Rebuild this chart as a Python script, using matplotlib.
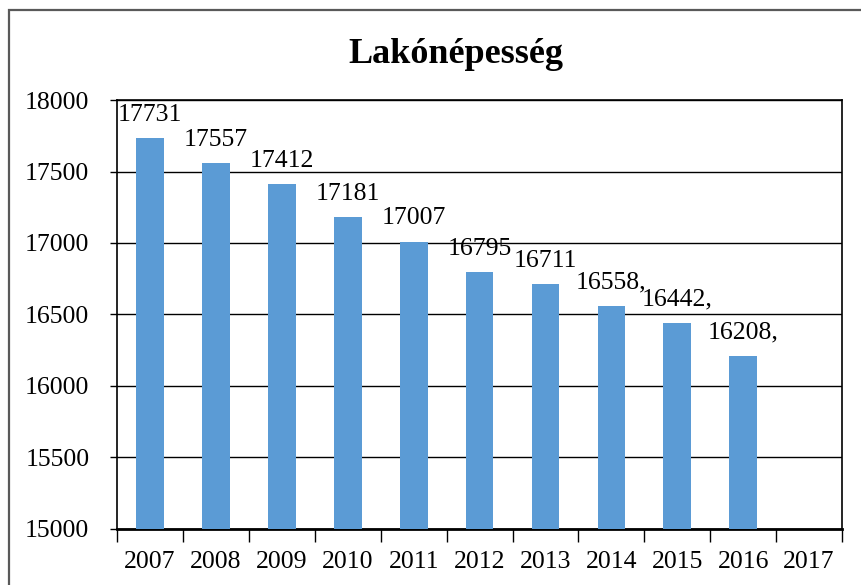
import matplotlib.pyplot as plt
from matplotlib.patches import Rectangle

plt.rcParams['font.family'] = ['Liberation Serif', 'DejaVu Serif']

years = ['2007', '2008', '2009', '2010', '2011', '2012', '2013', '2014', '2015', '2016', '2017']
population = [17731, 17557, 17412, 17181, 17007, 16795, 16711, 16558, 16442, 16208]
label_suffix = ['', '', '', '', '', '', '', ',', ',', ',']
y_ticks = [15000, 15500, 16000, 16500, 17000, 17500, 18000]

fig = plt.figure(figsize=(8.61, 5.85), dpi=100)
ax = fig.add_axes([0.136, 0.096, 0.842, 0.733])

# outer chart frame, cut off on the right and bottom
fig.patches.append(Rectangle((9 / 861, -0.05), 1.1, (575 / 585) + 0.05,
                             transform=fig.transFigure, fill=False,
                             edgecolor='#595959', linewidth=1.6))

x = list(range(len(population)))
ax.bar(x, population, width=0.42, color='#5B9BD5', zorder=3)

for xi, val, suf in zip(x, population, label_suffix):
    ax.annotate(f'{val}{suf}', (xi, val), xytext=(0, 9), textcoords='offset points',
                ha='center', va='bottom', fontsize=18.5, zorder=4)

ax.set_xlim(-0.5, len(years) - 0.5)
ax.set_ylim(15000, 18000)
ax.set_yticks(y_ticks)
ax.tick_params(axis='y', labelsize=18.5, length=5, width=1, direction='out', pad=15)
ax.set_xticks(range(len(years)))
ax.set_xticklabels(years)
ax.tick_params(axis='x', which='major', labelsize=18.5, length=0, pad=16)
ax.set_xticks([i - 0.5 for i in range(len(years) + 1)], minor=True)
ax.tick_params(axis='x', which='minor', length=9, width=1, direction='out')

ax.yaxis.grid(True, color='black', linewidth=1)
ax.set_axisbelow(True)
for side in ['top', 'right', 'left']:
    ax.spines[side].set_linewidth(1.2)
ax.spines['bottom'].set_linewidth(2)

fig.text(0.53, 0.906, 'Lakónépesség', ha='center', va='center',
         fontsize=26, fontweight='bold')

fig.savefig('out.png', dpi=100)
